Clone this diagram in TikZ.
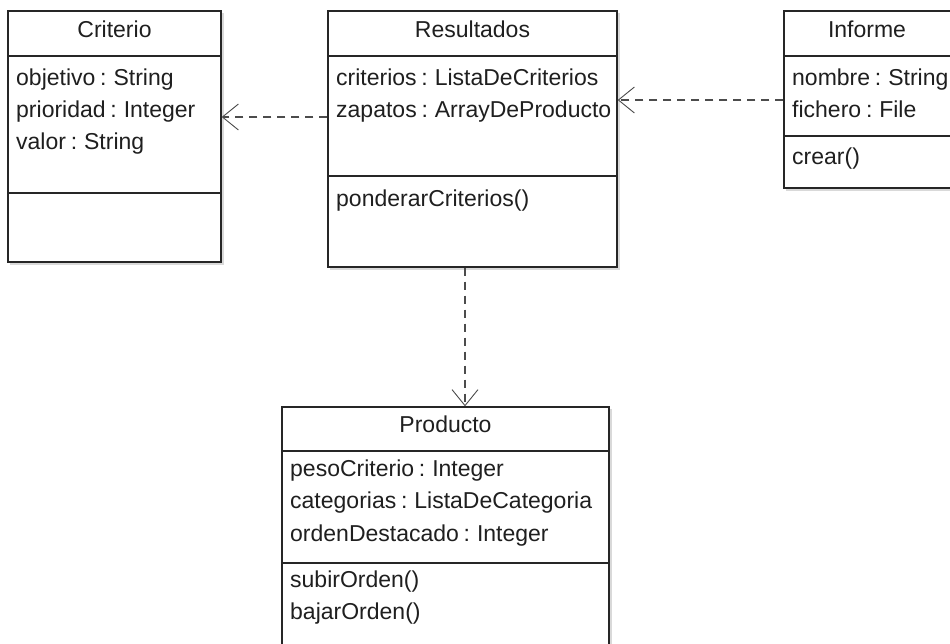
\documentclass[tikz,border=0pt]{standalone}
\usepackage{fontspec}
\setmainfont{Liberation Sans}[WordSpace=0.75]
\usetikzlibrary{arrows.meta}
\begin{document}
\begin{tikzpicture}[x=1pt,y=-1pt,
  cls/.style={draw=black!85, line width=1.4pt, fill=white, inner sep=0pt},
  sep/.style={draw=black!85, line width=1.3pt},
  ttl/.style={font=\fontsize{23}{25}\selectfont, text=black!88, inner sep=0pt, anchor=base},
  attr/.style={font=\fontsize{23}{25}\selectfont, text=black!88, inner sep=0pt, anchor=base west},
  dep/.style={draw=black!70, line width=1.2pt, dash pattern=on 8pt off 6pt,
    -{Straight Barb[length=16pt, width=26pt, line width=0.9pt, sharp]}}
]
\useasboundingbox (0,0) rectangle (950,643);
\clip (0,0) rectangle (950,643);
\fill[white] (0,0) rectangle (950,643);

% soft shadows under the class boxes
\fill[black!15] (10,13) rectangle (224,265);
\fill[black!15] (330,13) rectangle (620,270);
\fill[black!15] (786,13) rectangle (962,191);
\fill[black!15] (284,409) rectangle (612,662);

% class boxes
\node[cls, minimum width=213pt, minimum height=251pt] (crit) at (114.5,136.5) {};
\node[cls, minimum width=289pt, minimum height=256pt] (res) at (472.5,139) {};
\node[cls, minimum width=176pt, minimum height=177pt] (inf) at (872,99.5) {};
\node[cls, minimum width=327pt, minimum height=253pt] (prod) at (445.5,533.5) {};

% compartment separators
\draw[sep] (crit.west |- 0,56) -- (crit.east |- 0,56);
\draw[sep] (crit.west |- 0,193) -- (crit.east |- 0,193);
\draw[sep] (res.west |- 0,56) -- (res.east |- 0,56);
\draw[sep] (res.west |- 0,176) -- (res.east |- 0,176);
\draw[sep] (inf.west |- 0,56) -- (inf.east |- 0,56);
\draw[sep] (inf.west |- 0,136) -- (inf.east |- 0,136);
\draw[sep] (prod.west |- 0,451) -- (prod.east |- 0,451);
\draw[sep] (prod.west |- 0,563) -- (prod.east |- 0,563);

% Criterio
\node[ttl] (critT) at (114.5,37) {Criterio};
\node[attr] (critA1) at (16,85) {objetivo : String};
\node[attr] (critA2) at (16,117) {prioridad : Integer};
\node[attr] (critA3) at (16,149) {valor : String};

% Resultados
\node[ttl] (resT) at (472.5,37) {Resultados};
\node[attr] (resA1) at (336,85) {criterios : ListaDeCriterios};
\node[attr] (resA2) at (336,117) {zapatos : ArrayDeProducto};
\node[attr] (resM1) at (336,206) {ponderarCriterios()};

% Informe
\node[ttl] (infT) at (867,37) {Informe};
\node[attr] (infA1) at (792,85) {nombre : String};
\node[attr] (infA2) at (792,117) {fichero : File};
\node[attr] (infM1) at (792,164) {crear()};

% Producto
\node[ttl] (prodT) at (445.5,432) {Producto};
\node[attr] (prodA1) at (290,476) {pesoCriterio : Integer};
\node[attr] (prodA2) at (290,508) {categorias : ListaDeCategoria};
\node[attr] (prodA3) at (290,541) {ordenDestacado : Integer};
\node[attr] (prodM1) at (290,587) {subirOrden()};
\node[attr] (prodM2) at (290,619) {bajarOrden()};

% dependencies
\draw[dep] (res.west |- 0,117) -- (crit.east |- 0,117);
\draw[dep] (inf.west |- 0,100) -- (res.east |- 0,100);
\draw[dep] (res.south -| 465,0) -- (prod.north -| 465,0);
\end{tikzpicture}
\end{document}
